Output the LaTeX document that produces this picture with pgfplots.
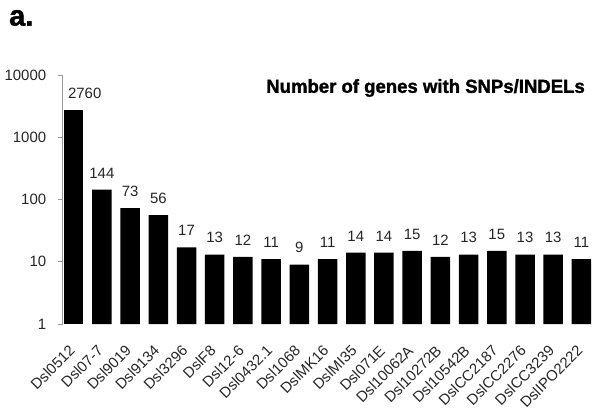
\documentclass[border=0pt]{standalone}
\usepackage{pgfplots}
\pgfplotsset{compat=1.18}
\usepackage{fontspec}
\setmainfont{Liberation Sans}
\newfontfamily\heavyfont[FakeBold=1.5]{Liberation Sans Bold}
\usepackage{graphicx}
\begin{document}
\begin{tikzpicture}
\path[use as bounding box] (0,0) rectangle (592bp,410bp);
\begin{axis}[
  at={(62.7bp,86bp)}, anchor=south west,
  scale only axis, width=530bp, height=249bp,
  xmin=-0.39, xmax=18.4,
  ymode=log, ymin=1, ymax=10000,
  ytick={1,10,100,1000,10000}, yticklabels={1,10,100,1000,10000},
  yminorticks=false,
  axis y line*=left, axis x line*=bottom,
  x axis line style={draw=none},
  y axis line style={draw=gray!80, line width=0.8pt},
  xtick={0,...,18},
  xticklabels={Dsl0512,Dsl07-7,Dsl9019,Dsl9134,Dsl3296,DslF8,Dsl12-6,Dsl0432.1,Dsl1068,DslMK16,DslMI35,Dsl071E,Dsl10062A,Dsl10272B,Dsl10542B,DslCC2187,DslCC2276,DslCC3239,DslIPO2222},
  xtick style={draw=none},
  ytick style={draw=gray!80, line width=0.8pt},
  tick align=outside, major tick length=5bp,
  xticklabel shift=8bp,
  xticklabel style={rotate=45, anchor=north east, inner sep=1pt, xshift=-8bp, font=\fontsize{15}{15}\selectfont, color=black!85},
  yticklabel style={font=\fontsize{15}{15}\selectfont, color=black!85, xshift=-8bp},
  ybar, bar width=19.5bp, bar shift=0pt,
  nodes near coords, point meta=explicit symbolic,
  every node near coord/.append style={font=\fontsize{15}{15}\selectfont, color=black!85, yshift=8bp},
  clip=false,
]
\addplot[fill=black, draw=none, every node near coord/.append style={xshift=11bp}] coordinates {
(0,2760) [2760]
};
\addplot[fill=black, draw=none] coordinates {
(1,144) [144]
(2,73) [73]
(3,56) [56]
(4,17) [17]
(5,13) [13]
(6,12) [12]
(7,11) [11]
(8,9) [9]
(9,11) [11]
(10,14) [14]
(11,14) [14]
(12,15) [15]
(13,12) [12]
(14,13) [13]
(15,15) [15]
(16,13) [13]
(17,13) [13]
(18,11) [11]
};
\end{axis}
\node[anchor=east, inner sep=0] at (585bp,322bp) {\scalebox{0.98}[1]{\fontsize{19}{19}\selectfont\heavyfont Number of genes with SNPs/INDELs}};
\node[anchor=west, inner sep=0] at (9bp,392bp) {\fontsize{29}{29}\selectfont\heavyfont a.};
\end{tikzpicture}
\end{document}
